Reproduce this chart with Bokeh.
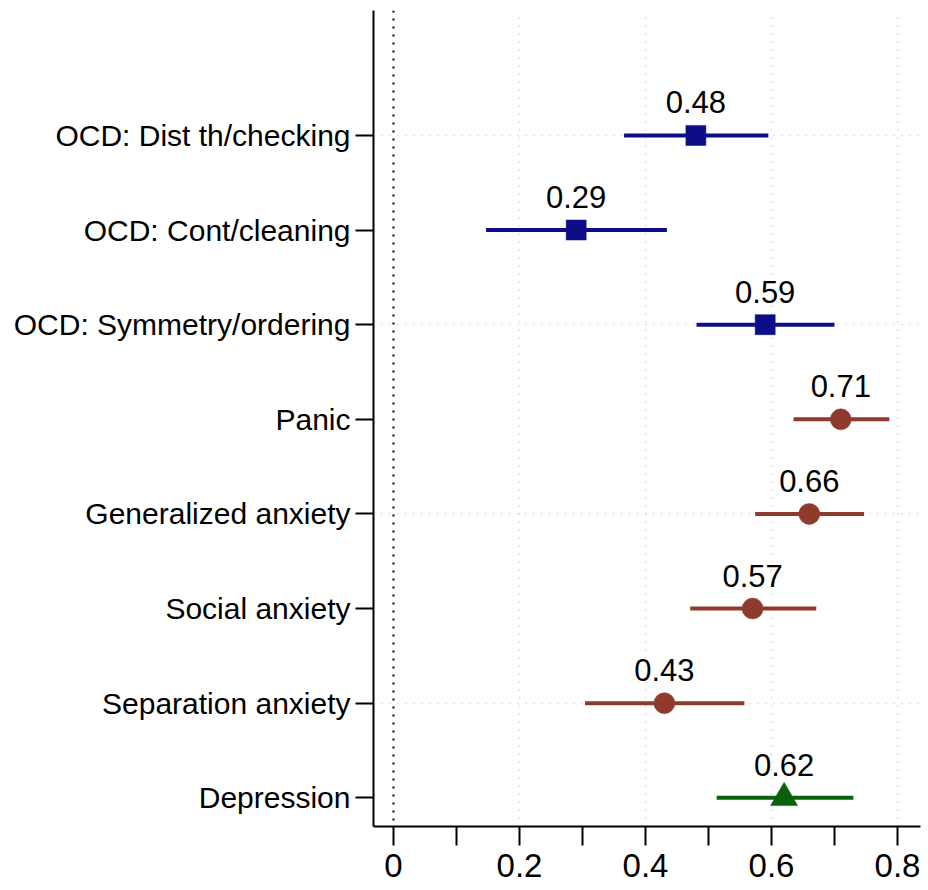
from bokeh.plotting import figure
from bokeh.models import ColumnDataSource, FixedTicker, Span, Range1d
from bokeh.core.properties import value
from bokeh.embed import file_html
from bokeh.resources import INLINE

# ---- data ----
categories = [
    "OCD: Dist th/checking",
    "OCD: Cont/cleaning",
    "OCD: Symmetry/ordering",
    "Panic",
    "Generalized anxiety",
    "Social anxiety",
    "Separation anxiety",
    "Depression",
]
groups = ["OCD", "OCD", "OCD", "Anxiety", "Anxiety", "Anxiety", "Anxiety", "Depression"]
estimates = [0.48, 0.29, 0.59, 0.71, 0.66, 0.57, 0.43, 0.62]
ci_lower = [0.366, 0.147, 0.481, 0.635, 0.574, 0.471, 0.304, 0.513]
ci_upper = [0.595, 0.434, 0.700, 0.787, 0.747, 0.671, 0.557, 0.730]
estimate_labels = ["0.48", "0.29", "0.59", "0.71", "0.66", "0.57", "0.43", "0.62"]

x_ticks = [0, 0.2, 0.4, 0.6, 0.8]
x_tick_labels = ["0", "0.2", "0.4", "0.6", "0.8"]
x_minor_ticks = [0.1, 0.3, 0.5, 0.7]

# ---- styles ----
group_style = {
    "OCD": dict(color="#0d0d87", marker="square", size=20),
    "Anxiety": dict(color="#8e3a2d", marker="circle", size=21),
    "Depression": dict(color="#0b600b", marker="triangle", size=27),
}
FONT = "Liberation Sans"

n = len(categories)
positions = [n - i for i in range(n)]

p = figure(
    width=928, height=890,
    output_backend="svg", toolbar_location=None,
    x_range=Range1d(-0.0317, 0.8365),
    y_range=Range1d(0.697, 9.32),
    min_border_left=373, min_border_right=8,
    min_border_top=10, min_border_bottom=64,
)
p.outline_line_color = None
p.background_fill_color = "white"
p.border_fill_color = "white"

# grids
p.xgrid.ticker = FixedTicker(ticks=[0.2, 0.4, 0.6, 0.8])
p.xgrid.grid_line_color = "#c4c4c4"
p.xgrid.grid_line_dash = "1 7"
p.xgrid.grid_line_width = 1.5
grid_rows = [positions[i] for i in range(0, n, 2)]
p.ygrid.ticker = FixedTicker(ticks=grid_rows)
p.ygrid.grid_line_color = "#c4c4c4"
p.ygrid.grid_line_dash = "1 7"
p.ygrid.grid_line_width = 1.5

# zero reference line
p.add_layout(Span(location=0, dimension="height", line_color="black",
                  line_dash="2 6", line_width=2))

# axes
p.xaxis.ticker = FixedTicker(ticks=x_ticks, minor_ticks=x_minor_ticks)
p.xaxis.major_label_overrides = {t: l for t, l in zip(x_ticks, x_tick_labels)}
p.xaxis.major_label_text_font = FONT
p.xaxis.major_label_text_font_size = "33px"
p.xaxis.major_label_text_color = "black"
p.xaxis.major_tick_out = 19
p.xaxis.major_tick_in = 0
p.xaxis.minor_tick_out = 19
p.xaxis.minor_tick_in = 0
p.xaxis.major_tick_line_width = 2
p.xaxis.minor_tick_line_width = 2
p.xaxis.minor_tick_line_color = "black"
p.xaxis.major_tick_line_color = "black"
p.xaxis.axis_line_width = 2
p.xaxis.axis_line_color = "black"
p.xaxis.major_label_standoff = 8

p.yaxis.ticker = FixedTicker(ticks=positions, minor_ticks=[])
p.yaxis.major_label_overrides = {pos: c for pos, c in zip(positions, categories)}
p.yaxis.major_label_text_font = FONT
p.yaxis.major_label_text_font_size = "30px"
p.yaxis.major_label_text_color = "black"
p.yaxis.major_tick_out = 18
p.yaxis.major_tick_in = 0
p.yaxis.minor_tick_line_color = None
p.yaxis.major_tick_line_width = 2
p.yaxis.major_tick_line_color = "black"
p.yaxis.axis_line_width = 2
p.yaxis.axis_line_color = "black"
p.yaxis.major_label_standoff = 5

# data marks per group
for g, st in group_style.items():
    idx = [i for i in range(n) if groups[i] == g]
    src = ColumnDataSource(dict(
        y=[positions[i] for i in idx],
        est=[estimates[i] for i in idx],
        lo=[ci_lower[i] for i in idx],
        hi=[ci_upper[i] for i in idx],
        lab=[estimate_labels[i] for i in idx],
    ))
    p.segment(x0="lo", x1="hi", y0="y", y1="y", source=src,
              line_color=st["color"], line_width=4)
    p.scatter(x="est", y="y", source=src, marker=st["marker"], size=st["size"],
              fill_color=st["color"], line_color=st["color"], line_width=0.5)
    p.text(x="est", y="y", text="lab", source=src,
           text_font=value(FONT), text_font_size="31px", text_color="black",
           text_align="center", text_baseline="alphabetic", y_offset=-33)

open("out.html", "w").write(file_html(p, INLINE))
